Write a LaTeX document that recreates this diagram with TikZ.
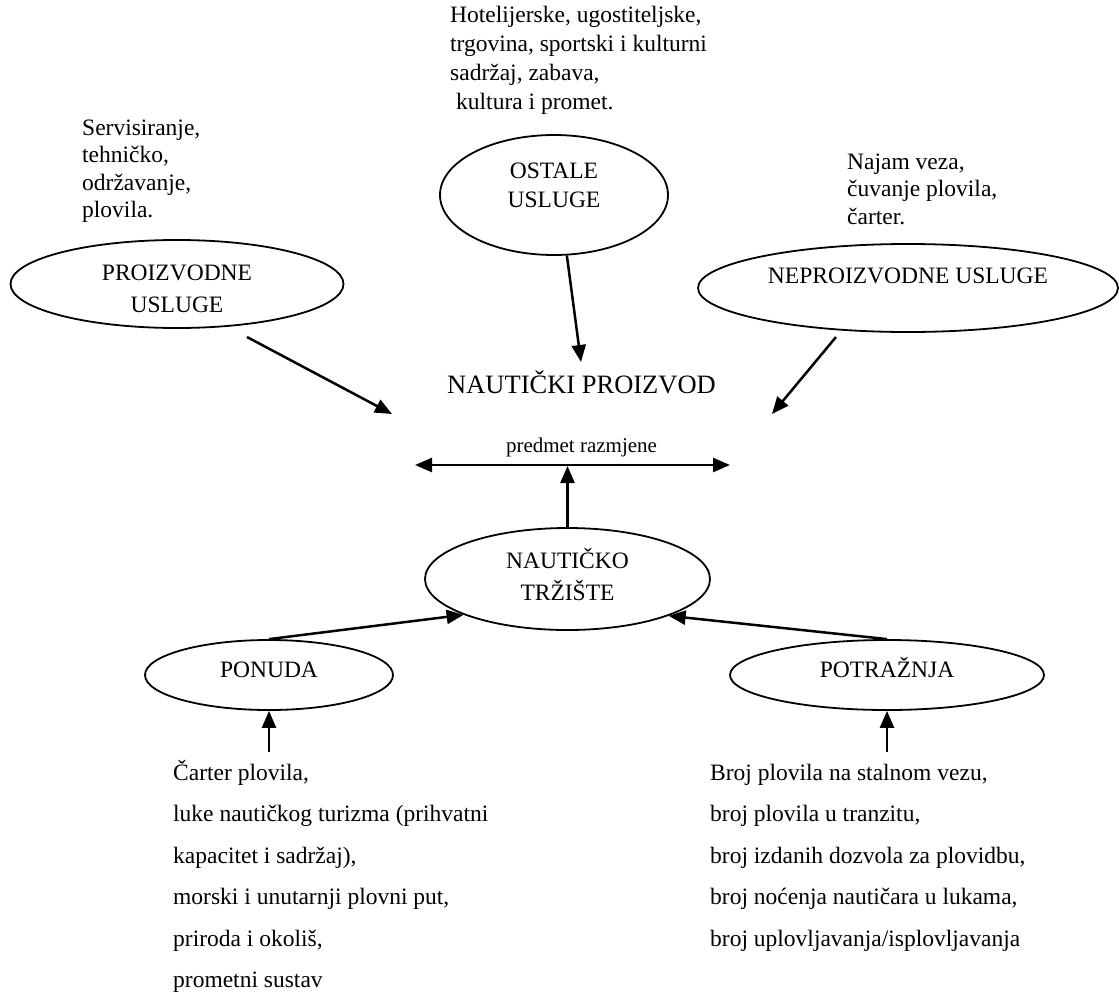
\documentclass[tikz,border=0pt]{standalone}
\usepackage{fontspec}
\setmainfont{Liberation Serif}
\usetikzlibrary{shapes.geometric,arrows.meta}
\begin{document}
\begin{tikzpicture}[x=1pt,y=-1pt,
  oval/.style={ellipse,draw,line width=1.8pt,inner sep=0pt,font=\fontsize{23.5}{32}\selectfont},
  conn/.style={line width=2.5pt,-{Triangle[length=17pt,width=14pt]}},
  dconn/.style={line width=2.5pt,{Triangle[length=17pt,width=14pt]}-{Triangle[length=17pt,width=14pt]}},
  plain/.style={inner sep=0pt,anchor=base west},
  note/.style={plain,font=\fontsize{23.5}{27.5}\selectfont},
  listtext/.style={plain,font=\fontsize{23.5}{41.5}\selectfont},
]
\useasboundingbox (0,0) rectangle (1119,991);

% ellipses
\node[oval,minimum width=333pt,minimum height=88pt,text height=10pt,text depth=18pt] (pro) at (177,284)
  {\begin{tabular}[t]{@{}c@{}}PROIZVODNE\\USLUGE\end{tabular}};
\node[oval,font=\fontsize{23.5}{29}\selectfont,minimum width=228pt,minimum height=120pt,text height=5pt,text depth=39pt] (ost) at (554,195)
  {\begin{tabular}[t]{@{}c@{}}OSTALE\\USLUGE\end{tabular}};
\node[oval,minimum width=420pt,minimum height=88pt,text height=5pt,text depth=15pt] (nepro) at (908,288)
  {NEPROIZVODNE USLUGE};
\node[oval,minimum width=285pt,minimum height=102pt,text height=5pt,text depth=27pt] (trz) at (567.5,579)
  {\begin{tabular}[t]{@{}c@{}}NAUTIČKO\\TRŽIŠTE\end{tabular}};
\node[oval,minimum width=248pt,minimum height=70pt,text height=8pt,text depth=4pt] (pon) at (269,675) {PONUDA};
\node[oval,minimum width=314pt,minimum height=70pt,text height=8pt,text depth=4pt] (pot) at (887,675) {POTRAŽNJA};

% central texts
\node[inner sep=0pt,anchor=base,font=\fontsize{26.5}{30}\selectfont] (prod) at (581.5,393) {NAUTIČKI PROIZVOD};
\node[inner sep=0pt,anchor=base,font=\fontsize{21}{25}\selectfont] (razm) at (581.5,452) {predmet razmjene};

% descriptive texts
\node[note] (tpro) at (82,135)
  {\begin{tabular}[t]{@{}l@{}}Servisiranje,\\tehničko,\\održavanje,\\plovila.\end{tabular}};
\node[plain,font=\fontsize{23.5}{29}\selectfont] (tost) at (450,22)
  {\begin{tabular}[t]{@{}l@{}}Hotelijerske, ugostiteljske,\\trgovina, sportski i kulturni\\sadržaj, zabava,\\\hspace*{6pt}kultura i promet.\end{tabular}};
\node[note] (tnep) at (847,169)
  {\begin{tabular}[t]{@{}l@{}}Najam veza,\\čuvanje plovila,\\čarter.\end{tabular}};
\node[listtext] (tpon) at (173,780)
  {\begin{tabular}[t]{@{}l@{}}Čarter plovila,\\luke nautičkog turizma (prihvatni\\kapacitet i sadržaj),\\morski i unutarnji plovni put,\\priroda i okoliš,\\prometni sustav\end{tabular}};
\node[listtext] (tpot) at (710,780)
  {\begin{tabular}[t]{@{}l@{}}Broj plovila na stalnom vezu,\\broj plovila u tranzitu,\\broj izdanih dozvola za plovidbu,\\broj noćenja nautičara u lukama,\\broj uplovljavanja/isplovljavanja\end{tabular}};

% free connector ends
\coordinate (p1) at (247,337);
\coordinate (p1e) at (392,414);
\coordinate (o1e) at (581,362);
\coordinate (n1) at (836,337);
\coordinate (n1e) at (772,414);
\coordinate (dl) at (415,465);
\coordinate (dr) at (730,465);
\coordinate (dm) at (567.5,466);
\coordinate (ps) at (269,752);
\coordinate (ts) at (887,752);

% connectors
\draw[conn] (p1) -- (p1e);
\draw[conn] (ost.-78) -- (o1e);
\draw[conn] (n1) -- (n1e);
\draw[dconn] (dl) -- (dr);
\draw[conn] (trz.north) -- (dm);
\draw[conn] (pon.north) -- (trz.199);
\draw[conn] (pot.north) -- (trz.-20);
\draw[conn] (ps) -- (pon.south);
\draw[conn] (ts) -- (pot.south);
\end{tikzpicture}
\end{document}
